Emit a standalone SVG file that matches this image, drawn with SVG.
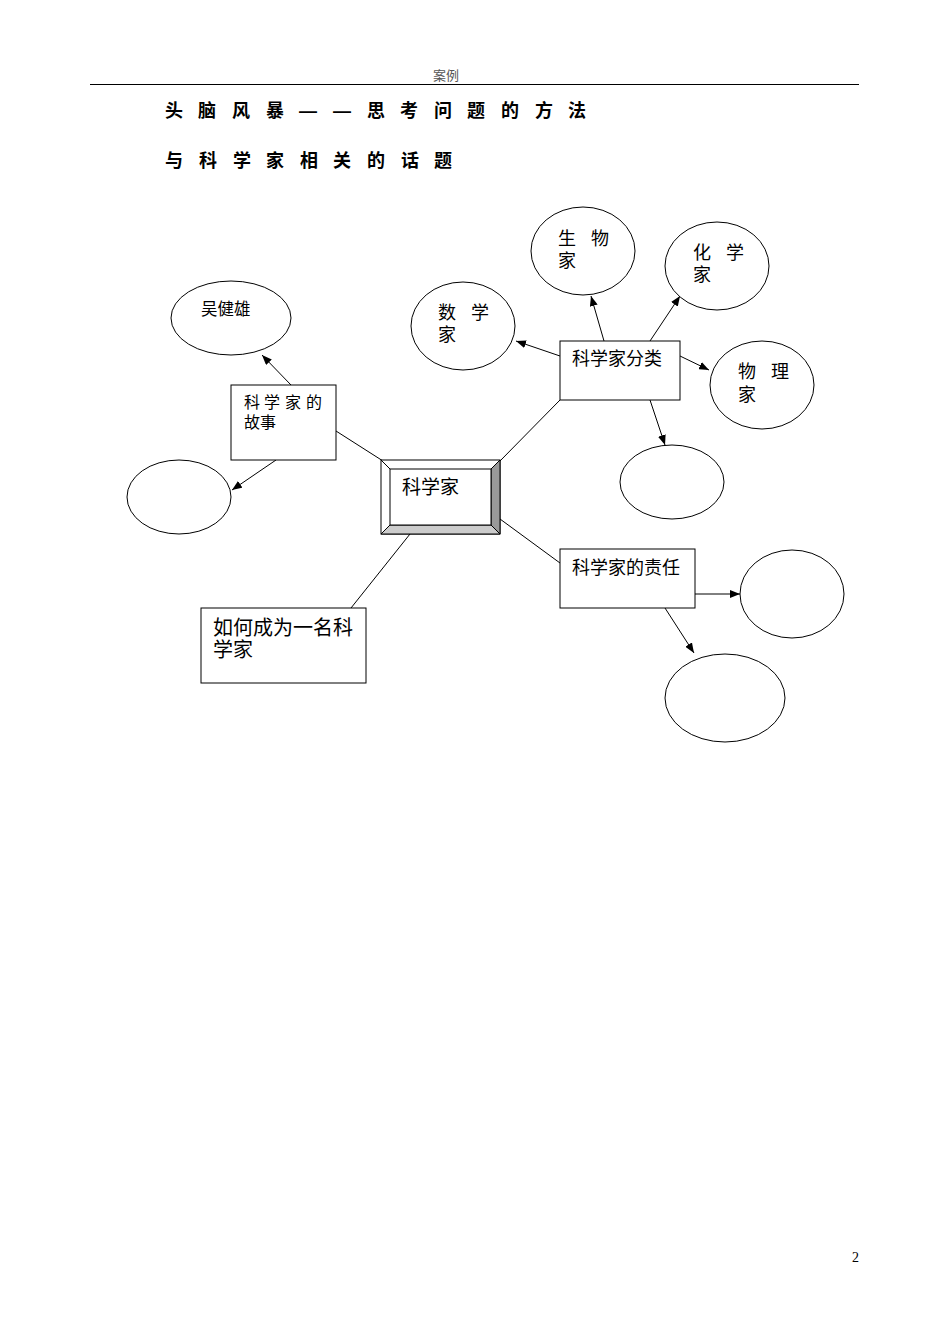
<svg xmlns="http://www.w3.org/2000/svg" width="950" height="1344" viewBox="0 0 950 1344">
<defs>
<marker id="arr" viewBox="0 0 10 8" refX="10" refY="4" markerWidth="10" markerHeight="8" markerUnits="userSpaceOnUse" orient="auto">
<path d="M0,0 L10,4 L0,8 Z" fill="#000"/>
</marker>
<style>
.t{font-family:"Liberation Sans","Noto Sans CJK SC",sans-serif;fill:#000}
.h{font-family:"Liberation Sans","Noto Sans CJK SC",sans-serif;font-size:18px;font-weight:bold;fill:#000}
.box{fill:#fff;stroke:#000;stroke-width:1}
.ell{fill:#fff;stroke:#000;stroke-width:1}
.ln{stroke:#000;stroke-width:1;fill:none}
.ar{stroke:#000;stroke-width:1;fill:none;marker-end:url(#arr)}
</style>
</defs>
<rect width="950" height="1344" fill="#fff"/>
<g id="header">
<text x="446" y="80" text-anchor="middle" class="t" font-size="13" style="fill:#555">案例</text>
<line x1="90" y1="84.5" x2="859" y2="84.5" stroke="#000" stroke-width="1.2"/>
<text class="h" y="117"><tspan x="165">头</tspan><tspan x="198">脑</tspan><tspan x="232">风</tspan><tspan x="266">暴</tspan><tspan x="299">—</tspan><tspan x="333">—</tspan><tspan x="367">思</tspan><tspan x="400">考</tspan><tspan x="434">问</tspan><tspan x="467">题</tspan><tspan x="501">的</tspan><tspan x="535">方</tspan><tspan x="568">法</tspan></text>
<text class="h" y="167"><tspan x="165">与</tspan><tspan x="199">科</tspan><tspan x="233">学</tspan><tspan x="266">家</tspan><tspan x="300">相</tspan><tspan x="333">关</tspan><tspan x="367">的</tspan><tspan x="401">话</tspan><tspan x="434">题</tspan></text>
</g>
<g id="connectors">
<line class="ln" x1="336" y1="431" x2="383" y2="461"/>
<line class="ln" x1="500" y1="461" x2="560" y2="400"/>
<line class="ln" x1="500" y1="519" x2="560" y2="563"/>
<line class="ln" x1="410" y1="534" x2="351" y2="608"/>
<line class="ar" x1="291" y1="385" x2="262" y2="355"/>
<line class="ar" x1="276" y1="460" x2="232" y2="490"/>
<line class="ar" x1="560" y1="356" x2="516" y2="341"/>
<line class="ar" x1="604" y1="341" x2="591" y2="296"/>
<line class="ar" x1="650" y1="341" x2="680" y2="296"/>
<line class="ar" x1="680" y1="356" x2="709" y2="370"/>
<line class="ar" x1="650" y1="400" x2="665" y2="445"/>
<line class="ar" x1="695" y1="594" x2="740" y2="594"/>
<line class="ar" x1="665" y1="608" x2="694" y2="653"/>
</g>
<g id="center">
<rect x="381" y="460" width="119" height="74" fill="#fff" stroke="#000"/>
<polygon points="491,469 500,460 500,534 491,525" fill="#999" stroke="#000"/>
<polygon points="390,525 491,525 500,534 381,534" fill="#ccc" stroke="#000"/>
<line x1="381" y1="460" x2="390" y2="469" stroke="#000"/>
<rect x="390" y="469" width="101" height="56" fill="#fff" stroke="#000"/>
<text x="402" y="494" class="t" font-size="19">科学家</text>
</g>
<g id="story">
<rect class="box" x="231" y="385" width="105" height="75"/>
<text class="t" font-size="16" y="408"><tspan x="244">科</tspan><tspan x="264">学</tspan><tspan x="285">家</tspan><tspan x="306">的</tspan></text>
<text class="t" font-size="16" x="244" y="428">故事</text>
</g>
<g id="wu">
<ellipse class="ell" cx="231" cy="318" rx="60" ry="37"/>
<text class="t" font-size="16.5" x="201" y="315">吴健雄</text>
</g>
<g id="story-empty">
<ellipse class="ell" cx="179" cy="497" rx="52" ry="37"/>
</g>
<g id="classify">
<rect class="box" x="560" y="341" width="120" height="59"/>
<text class="t" font-size="18" x="572" y="365">科学家分类</text>
</g>
<g id="math">
<ellipse class="ell" cx="463" cy="326" rx="52" ry="44"/>
<text class="t" font-size="18" y="319"><tspan x="438">数</tspan><tspan x="471">学</tspan></text>
<text class="t" font-size="18" x="438" y="341">家</text>
</g>
<g id="bio">
<ellipse class="ell" cx="583" cy="251" rx="52" ry="44"/>
<text class="t" font-size="18" y="245"><tspan x="558">生</tspan><tspan x="591">物</tspan></text>
<text class="t" font-size="18" x="558" y="267">家</text>
</g>
<g id="chem">
<ellipse class="ell" cx="717" cy="266" rx="52" ry="44"/>
<text class="t" font-size="18" y="259"><tspan x="693">化</tspan><tspan x="726">学</tspan></text>
<text class="t" font-size="18" x="693" y="281">家</text>
</g>
<g id="phys">
<ellipse class="ell" cx="762" cy="385" rx="52" ry="44"/>
<text class="t" font-size="18" y="378"><tspan x="738">物</tspan><tspan x="771">理</tspan></text>
<text class="t" font-size="18" x="738" y="401">家</text>
</g>
<g id="classify-empty">
<ellipse class="ell" cx="672" cy="482" rx="52" ry="37"/>
</g>
<g id="duty">
<rect class="box" x="560" y="549" width="135" height="59"/>
<text class="t" font-size="18" x="572" y="574">科学家的责任</text>
</g>
<g id="duty-right">
<ellipse class="ell" cx="792" cy="594" rx="52" ry="44"/>
</g>
<g id="duty-bottom">
<ellipse class="ell" cx="725" cy="698" rx="60" ry="44"/>
</g>
<g id="become">
<rect class="box" x="201" y="608" width="165" height="75"/>
<text class="t" font-size="20" x="213" y="635">如何成为一名科</text>
<text class="t" font-size="20" x="213" y="657">学家</text>
</g>
<g id="footer">
<text x="859" y="1262" text-anchor="end" font-family="Liberation Serif, serif" font-size="14">2</text>
</g>
</svg>
